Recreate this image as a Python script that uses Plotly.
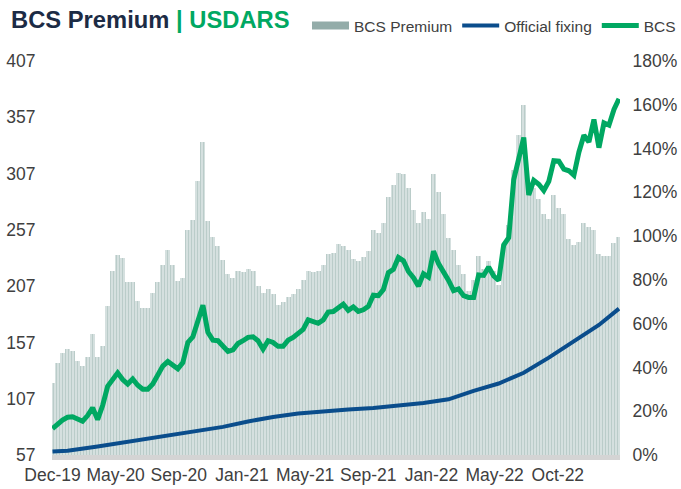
import plotly.graph_objects as go

# ---------------- data ----------------
dates = [
    "2019-12-31", "2020-01-10", "2020-01-20", "2020-01-30", "2020-02-09", "2020-02-19",
    "2020-02-29", "2020-03-10", "2020-03-20", "2020-03-30", "2020-04-09", "2020-04-19",
    "2020-04-29", "2020-05-09", "2020-05-19", "2020-05-29", "2020-06-08", "2020-06-18",
    "2020-06-28", "2020-07-08", "2020-07-18", "2020-07-28", "2020-08-07", "2020-08-17",
    "2020-08-27", "2020-09-06", "2020-09-16", "2020-09-26", "2020-10-06", "2020-10-16",
    "2020-10-26", "2020-11-05", "2020-11-15", "2020-11-25", "2020-12-05", "2020-12-15",
    "2020-12-25", "2021-01-04", "2021-01-14", "2021-01-24", "2021-02-03", "2021-02-13",
    "2021-02-23", "2021-03-05", "2021-03-15", "2021-03-25", "2021-04-04", "2021-04-14",
    "2021-04-24", "2021-05-04", "2021-05-14", "2021-05-24", "2021-06-03", "2021-06-13",
    "2021-06-23", "2021-07-03", "2021-07-13", "2021-07-23", "2021-08-02", "2021-08-12",
    "2021-08-22", "2021-09-01", "2021-09-11", "2021-09-21", "2021-10-01", "2021-10-11",
    "2021-10-21", "2021-10-31", "2021-11-10", "2021-11-20", "2021-11-30", "2021-12-10",
    "2021-12-20", "2021-12-30", "2022-01-09", "2022-01-19", "2022-01-29", "2022-02-08",
    "2022-02-18", "2022-02-28", "2022-03-10", "2022-03-20", "2022-03-30", "2022-04-09",
    "2022-04-19", "2022-04-29", "2022-05-09", "2022-05-19", "2022-05-29", "2022-06-08",
    "2022-06-18", "2022-06-28", "2022-07-08", "2022-07-18", "2022-07-28", "2022-08-07",
    "2022-08-17", "2022-08-27", "2022-09-06", "2022-09-16", "2022-09-26", "2022-10-06",
    "2022-10-16", "2022-10-26", "2022-11-05", "2022-11-15", "2022-11-25", "2022-12-05",
    "2022-12-15", "2022-12-25", "2023-01-04", "2023-01-14", "2023-01-24", "2023-02-03",
]

# BCS (parallel) rate, ARS per USD - left axis
bcs = [
    80.5, 84.5, 88, 90.5, 91, 89, 87, 92, 99, 88.5,
    101, 118, 125, 130, 124, 120, 124.5, 119, 115.5, 115.5,
    120, 128, 136, 140, 137, 133.5, 139, 157, 162, 177,
    190, 166, 159, 158.5, 154, 149, 150.5, 156, 158.5, 161.5,
    162, 158.5, 151, 158.5, 157, 153.5, 153.5, 159, 161.5, 164.5,
    168.5, 177, 175, 174, 177, 184, 184.5, 188, 191, 185.5,
    188.5, 184.5, 186, 189, 199, 198.5, 204, 219, 222, 232.5,
    229.5, 220, 214.5, 207, 218, 215, 238, 227, 220, 212,
    203, 204.5, 198.5, 197, 197, 217, 216.5, 224, 216, 212,
    243.5, 250, 301.5, 320, 339, 288, 301, 297.5, 292, 300,
    318.5, 318, 311, 309.5, 305.5, 326, 341, 335, 355, 330,
    352, 350, 364, 373.5,
]

# BCS premium over official fixing, % - right axis
premium = [
    33, 42, 46.5, 48.5, 47.5, 43, 40.5, 45, 55.5, 45,
    50, 68, 84, 91.5, 90, 79, 79, 70.5, 67, 67,
    74, 79, 87, 93.5, 87, 79.5, 81, 103, 107.5, 125,
    143, 107, 99.5, 95.5, 89, 82.5, 81, 84, 83.5, 85,
    84, 77, 74, 76, 73.5, 68.5, 70, 72, 73.5, 76,
    80, 84, 83.5, 84, 87, 92, 92.5, 96.5, 95.5, 93.5,
    89.5, 88.5, 90.5, 93, 103, 101.5, 106, 118, 123.5, 129,
    128.5, 122, 112, 106, 111, 108, 128.5, 120, 110, 99,
    93.5, 87, 82.5, 75, 80, 91, 85, 88.5, 84, 77.5,
    96, 105, 130, 146, 160, 123, 122, 117, 110, 108,
    119, 113, 110, 98.5, 96, 97.5, 106, 104, 103, 92,
    91, 91, 97, 99.7,
]

# Official fixing, ARS per USD - left axis
official_dates = [
    "2019-12-31", "2020-01-30", "2020-03-30", "2020-05-19", "2020-07-08", "2020-08-27",
    "2020-10-16", "2020-12-05", "2021-01-24", "2021-03-15", "2021-05-04", "2021-06-23",
    "2021-08-12", "2021-10-01", "2021-11-20", "2022-01-09", "2022-02-28", "2022-04-19",
    "2022-06-08", "2022-07-28", "2022-09-16", "2022-11-05", "2022-12-25", "2023-02-03",
]
official = [
    60.0, 60.8, 64.6, 68.2, 72.0, 74.8,
    78.3, 82.0, 86.8, 90.8, 93.8, 95.8,
    97.5, 98.8, 100.8, 103.2, 106.5, 114.0,
    120.5, 130.0, 143.5, 157.5, 172.5, 187.0,
]

tick_dates = ["2019-12-31", "2020-05-05", "2020-09-08", "2021-01-12", "2021-05-18",
              "2021-09-21", "2022-01-25", "2022-05-31", "2022-10-04"]
tick_labels = ["Dec-19", "May-20", "Sep-20", "Jan-21", "May-21",
               "Sep-21", "Jan-22", "May-22", "Oct-22"]
left_ticks = [57, 107, 157, 207, 257, 307, 357, 407]
right_ticks = [0, 20, 40, 60, 80, 100, 120, 140, 160, 180]
right_labels = ["0%", "20%", "40%", "60%", "80%", "100%", "120%", "140%", "160%", "180%"]

# ---------------- styles ----------------
GREEN = "#00a862"
BLUE = "#0a4d8c"
NAVY = "#1c2b45"
TXT = "#404040"
FONT = "Liberation Sans, Arial, sans-serif"
DAY_MS = 86400000

W, H = 681, 489

fig = go.Figure()

fig.add_trace(go.Bar(
    x=dates, y=premium, yaxis="y", name="BCS Premium", showlegend=False,
    width=10 * DAY_MS,
    marker=dict(
        color="#d8e3e1",
        line=dict(width=0),
        pattern=dict(shape="|", fillmode="overlay", fgcolor="#9cb5b2",
                     size=3, solidity=0.4),
    ),
))
# legend entry for the bars (wide swatch as in the reference)
fig.add_trace(go.Scatter(
    x=[None], y=[None], yaxis="y", mode="lines", name="BCS Premium",
    line=dict(color="#93aca9", width=8),
))
fig.add_trace(go.Scatter(
    x=official_dates, y=official, yaxis="y2", mode="lines", name="Official fixing",
    line=dict(color=BLUE, width=4),
))
fig.add_trace(go.Scatter(
    x=dates, y=bcs, yaxis="y2", mode="lines", name="BCS",
    line=dict(color=GREEN, width=5),
))

fig.update_layout(
    width=W, height=H,
    margin=dict(l=52, r=61, t=61, b=34, autoexpand=False),
    paper_bgcolor="white", plot_bgcolor="white",
    font=dict(family=FONT, color=TXT, size=16),
    bargap=0,
    hovermode=False,
    title=dict(
        text=f"<b><span style='color:{NAVY}'>BCS Premium</span> "
             f"<span style='color:{GREEN}'>| USDARS</span></b>",
        x=11 / W, xref="container", xanchor="left",
        y=1 - 20 / H, yref="container", yanchor="middle",
        font=dict(size=23.75, family=FONT),
    ),
    legend=dict(
        orientation="h", x=307 / W, xref="container", xanchor="left",
        y=1 - 26 / H, yref="container", yanchor="middle",
        font=dict(size=15.5, color=TXT), itemwidth=37,
        bgcolor="rgba(0,0,0,0)", traceorder="normal",
    ),
    xaxis=dict(
        type="date", range=["2019-12-30", "2023-02-05"], automargin=False,
        tickmode="array", tickvals=tick_dates, ticktext=tick_labels,
        showgrid=False, zeroline=False,
        showline=True, linecolor="#d4d4d4", linewidth=5,
        ticks="", tickfont=dict(size=17.5, color=TXT),
    ),
    yaxis=dict(
        side="right", range=[0, 180], tickmode="array", tickvals=right_ticks,
        ticktext=right_labels, automargin=False,
        showgrid=False, zeroline=False,
        ticks="outside", ticklen=8, tickcolor="rgba(0,0,0,0)",
        tickfont=dict(size=17.5, color=TXT),
    ),
    yaxis2=dict(
        overlaying="y", side="left", range=[57, 407], tickmode="array",
        tickvals=left_ticks, automargin=False,
        showgrid=False, zeroline=False,
        ticks="outside", ticklen=12, tickcolor="rgba(0,0,0,0)",
        tickfont=dict(size=17.5, color=TXT),
    ),
)

# remove the default 8 px page margin so the figure fills the 681x489 window
fig.write_html(
    "out.html",
    config={"displayModeBar": False},
    post_script="document.body.style.margin='0';",
)
